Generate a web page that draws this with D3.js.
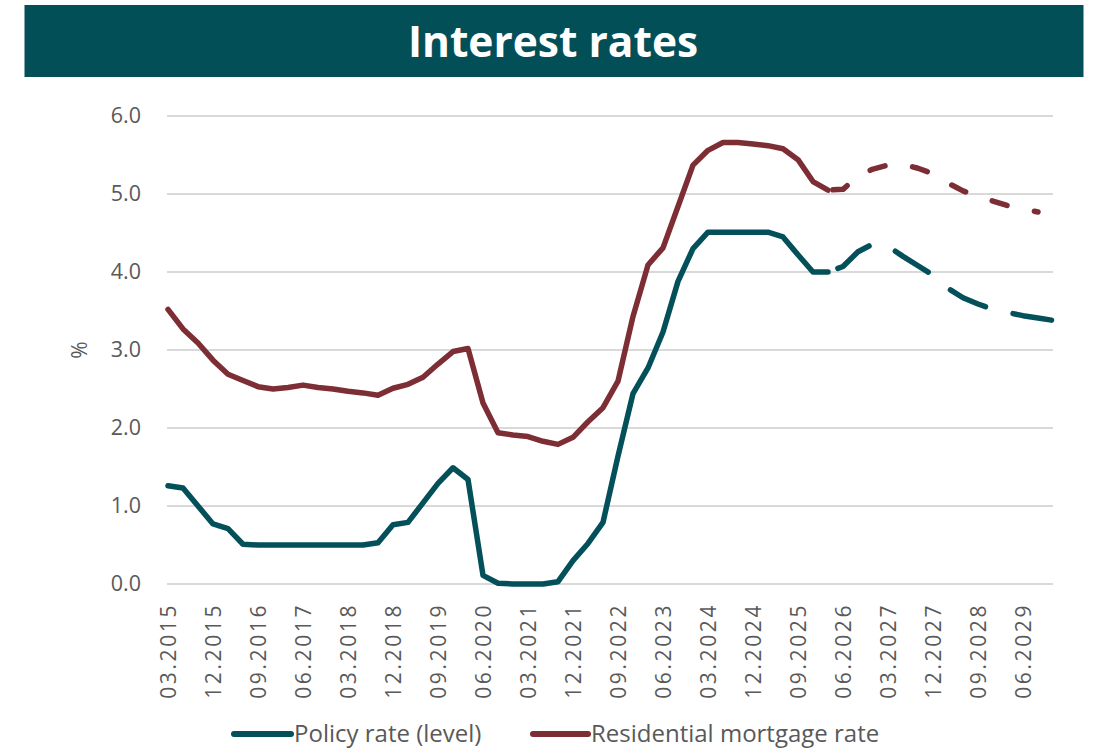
<!DOCTYPE html>
<html><head><meta charset="utf-8">
<script src="https://cdn.jsdelivr.net/npm/d3@7"></script>
<style>
body{margin:0;background:#fff}
text{font-family:"Open Sans",sans-serif}
</style>
</head><body>
<svg id="c" width="1094" height="753"></svg>
<script>
const categories = [
 "03.2015","06.2015","09.2015","12.2015","03.2016","06.2016","09.2016","12.2016",
 "03.2017","06.2017","09.2017","12.2017","03.2018","06.2018","09.2018","12.2018",
 "03.2019","06.2019","09.2019","12.2019","03.2020","06.2020","09.2020","12.2020",
 "03.2021","06.2021","09.2021","12.2021","03.2022","06.2022","09.2022","12.2022",
 "03.2023","06.2023","09.2023","12.2023","03.2024","06.2024","09.2024","12.2024",
 "03.2025","06.2025","09.2025","12.2025","03.2026","06.2026","09.2026","12.2026",
 "03.2027","06.2027","09.2027","12.2027","03.2028","06.2028","09.2028","12.2028",
 "03.2029","06.2029","09.2029","12.2029"];
const tickLabels = ["03.2015","12.2015","09.2016","06.2017","03.2018","12.2018","09.2019",
 "06.2020","03.2021","12.2021","09.2022","06.2023","03.2024","12.2024","09.2025",
 "06.2026","03.2027","12.2027","09.2028","06.2029"];
// actual data 03.2015 .. 03.2026
const policyActual = [1.26,1.23,1.00,0.77,0.71,0.51,0.50,0.50,0.50,0.50,0.50,0.50,0.50,0.50,0.53,0.76,
 0.79,1.04,1.29,1.49,1.34,0.11,0.01,0.00,0.00,0.00,0.03,0.30,0.52,0.79,1.64,2.44,
 2.77,3.23,3.88,4.30,4.51,4.51,4.51,4.51,4.51,4.45,4.22,4.00,4.00];
const mortgageActual = [3.52,3.27,3.09,2.87,2.69,2.61,2.53,2.50,2.52,2.55,2.52,2.50,2.47,2.45,2.42,2.51,
 2.56,2.65,2.82,2.98,3.02,2.32,1.94,1.91,1.89,1.83,1.79,1.88,2.08,2.26,2.60,3.43,
 4.09,4.31,4.84,5.37,5.56,5.66,5.66,5.64,5.62,5.58,5.44,5.16,5.05];
// forecasts starting at 03.2026
const forecastStart = "03.2026";
const policyForecast = [4.00,4.07,4.26,4.36,4.33,4.20,4.08,3.96,3.79,3.67,3.59,3.52,3.48,3.44,3.41,3.38];
const mortgageForecast = [5.05,5.06,5.23,5.32,5.37,5.38,5.33,5.26,5.14,5.04,4.97,4.91,4.85,4.81,4.77];
const yTicks = [0,1,2,3,4,5,6];
const seriesNames = ["Policy rate (level)","Residential mortgage rate"];
const colors = ["#03505a","#7d2e34"];

const svg = d3.select("#c");
const x = d3.scalePoint().domain(categories).range([168,1053]);
const y = d3.scaleLinear().domain([0,6]).range([584,116]);

// title band
svg.append("rect").attr("x",24.5).attr("y",5).attr("width",1059).attr("height",72).attr("fill","#034f58");
svg.append("text").attr("x",553).attr("y",57).attr("text-anchor","middle")
  .attr("fill","#fff").attr("font-weight","bold").attr("font-size",42.5).text("Interest rates");

// grid
svg.append("g").selectAll("line").data(yTicks).join("line")
  .attr("x1",167).attr("x2",1053).attr("y1",d=>y(d)).attr("y2",d=>y(d))
  .attr("stroke","#d9d9d9").attr("stroke-width",2);

// y axis
const ya = svg.append("g").attr("transform","translate(148,0)")
  .call(d3.axisLeft(y).tickValues(yTicks).tickFormat(d3.format(".1f")).tickSize(0).tickPadding(7));
ya.select(".domain").remove();
ya.selectAll("text").attr("font-size",21.5).attr("fill","#595959").attr("font-family","'Open Sans',sans-serif");

svg.append("text").attr("transform","translate(87,350) rotate(-90)").attr("text-anchor","middle")
  .attr("font-size",21).attr("fill","#595959").text("%");

// x axis
const xa = svg.append("g").attr("transform","translate(0,584)")
  .call(d3.axisBottom(x).tickValues(tickLabels).tickSize(0));
xa.select(".domain").remove();
xa.selectAll("text").attr("transform","rotate(-90)").attr("text-anchor","end")
  .attr("x",-19).attr("y",0).attr("dy","0.36em")
  .attr("font-size",21).attr("letter-spacing","2.6px").attr("fill","#595959")
  .attr("font-family","'Open Sans',sans-serif");

const line = d3.line().x(d=>x(d.c)).y(d=>y(d.v));
const i0 = categories.indexOf(forecastStart);
const toPts = (arr, start) => arr.map((v,i)=>({c:categories[start+i], v}));

function draw(pts, color, dash, offset){
  const p = svg.append("path").datum(pts).attr("d",line).attr("fill","none")
    .attr("stroke",color).attr("stroke-width",5.5)
    .attr("stroke-linejoin","round").attr("stroke-linecap","round");
  if(dash) p.attr("stroke-dasharray",dash).attr("stroke-dashoffset",offset);
}
draw(toPts(policyActual,0), colors[0]);
draw(toPts(mortgageActual,0), colors[1]);
draw(toPts(policyForecast,i0), colors[0], "39 28.5", 57);
draw(toPts(mortgageForecast,i0), colors[1], "15.5 28", 38.5);

// legend
const lg = [{x1:234,x2:291,tx:294},{x1:533,x2:588,tx:591}];
lg.forEach((L,i)=>{
  svg.append("line").attr("x1",L.x1).attr("x2",L.x2).attr("y1",734).attr("y2",734)
    .attr("stroke",colors[i]).attr("stroke-width",6).attr("stroke-linecap","round");
  svg.append("text").attr("x",L.tx).attr("y",742).attr("font-size",24).attr("fill","#595959").text(seriesNames[i]);
});
</script>
</body></html>
